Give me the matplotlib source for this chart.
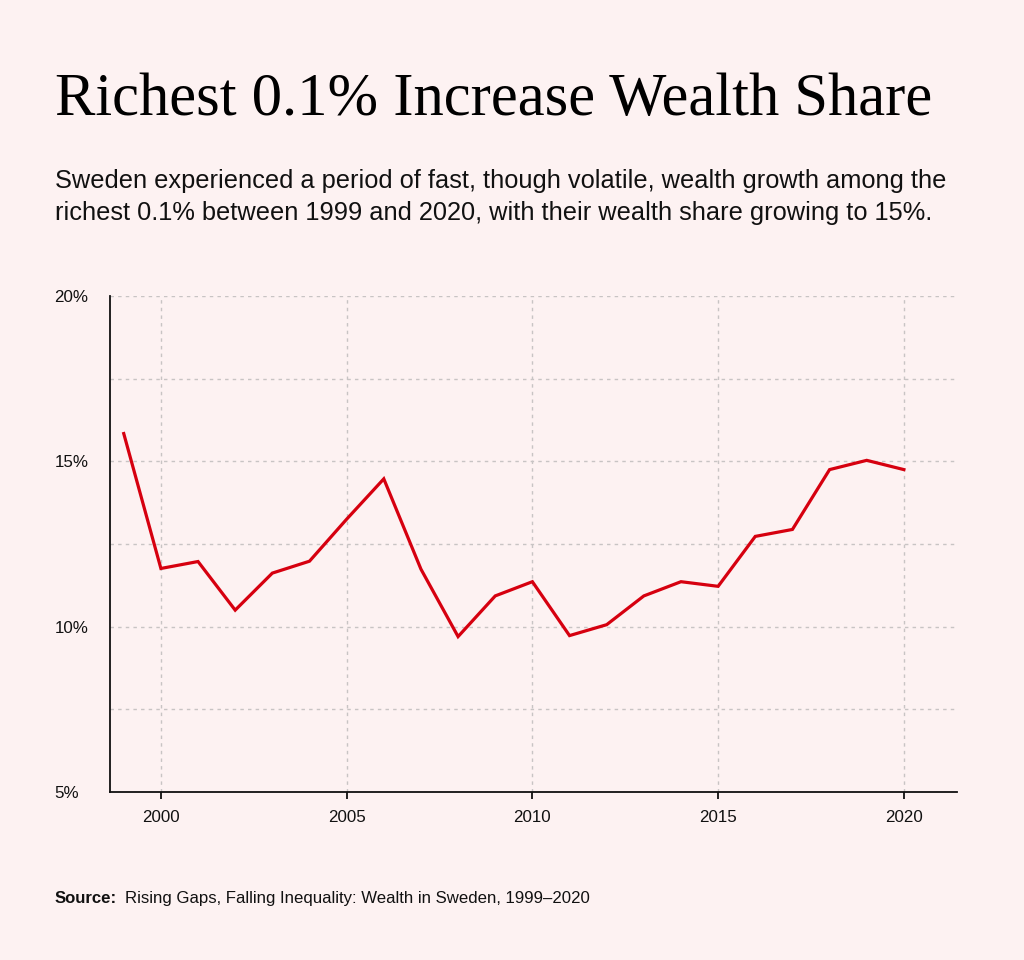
import matplotlib
matplotlib.use('Agg')
import matplotlib.pyplot as plt
from matplotlib.ticker import FixedLocator, FuncFormatter

# values (share of wealth held by the richest 0.1%, in %)
years = [1999, 2000, 2001, 2002, 2003, 2004, 2005, 2006, 2007, 2008, 2009,
         2010, 2011, 2012, 2013, 2014, 2015, 2016, 2017, 2018, 2019, 2020]
share = [15.84, 11.76, 11.97, 10.5, 11.62, 11.98, 13.25, 14.47, 11.74, 9.7, 10.93,
         11.36, 9.73, 10.06, 10.93, 11.36, 11.22, 12.73, 12.94, 14.75, 15.03, 14.75]

x_ticks = [2000, 2005, 2010, 2015, 2020]
y_ticks = [5, 10, 15, 20]
y_minor = [7.5, 12.5, 17.5]

BG = '#fdf2f2'
RED = '#d6000f'
GRID = '#c8c4c4'

title = 'Richest 0.1% Increase Wealth Share'
subtitle = ['Sweden experienced a period of fast, though volatile, wealth growth among the',
            'richest 0.1% between 1999 and 2020, with their wealth share growing to 15%.']
source = 'Rising Gaps, Falling Inequality: Wealth in Sweden, 1999\u20132020'

W, H = 1024, 960
fig = plt.figure(figsize=(W / 100, H / 100), dpi=100, facecolor=BG)
ax = fig.add_axes([110 / W, 1 - 792 / H, (957 - 110) / W, (792 - 296) / H])
ax.set_facecolor(BG)

ax.plot(years, share, color=RED, linewidth=2.3, solid_joinstyle='miter', zorder=3)

ax.set_xlim(1998.63, 2021.43)
ax.set_ylim(5, 20)

ax.xaxis.set_major_locator(FixedLocator(x_ticks))
ax.yaxis.set_major_locator(FixedLocator(y_ticks))
ax.yaxis.set_minor_locator(FixedLocator(y_minor))
ax.yaxis.set_major_formatter(FuncFormatter(lambda v, p: '%d%%' % v))

for s in ['top', 'right']:
    ax.spines[s].set_visible(False)
for s in ['left', 'bottom']:
    ax.spines[s].set_linewidth(1.3)
    ax.spines[s].set_color('#111111')

ax.grid(True, which='both', color=GRID, linestyle=(0, (2.5, 3)), linewidth=1.0, zorder=0)
ax.tick_params(axis='x', which='major', direction='out', length=5, width=1.3,
               color='#111111', labelsize=12.2, pad=8, labelcolor='#111111')
ax.tick_params(axis='y', which='both', length=0, labelsize=12.2, pad=40, labelcolor='#111111')
for lab in ax.get_yticklabels():
    lab.set_horizontalalignment('left')
    lab.set_fontfamily('Liberation Sans')
for lab in ax.get_xticklabels():
    lab.set_fontfamily('Liberation Sans')

fig.text(55 / W, 1 - 115 / H, title, fontsize=43.7, family='Liberation Serif',
         color='#000000', ha='left', va='baseline')
for i, line in enumerate(subtitle):
    fig.text(55 / W, 1 - (188 + 32 * i) / H, line, fontsize=18.3, family='Liberation Sans',
             color='#111111', ha='left', va='baseline')

src_bold = fig.text(55 / W, 1 - 903 / H, 'Source:', fontsize=12.1, family='Liberation Sans',
                    weight='bold', color='#111111', ha='left', va='baseline')
fig.canvas.draw()
bb = src_bold.get_window_extent(renderer=fig.canvas.get_renderer())
fig.text((bb.x1 + 8) / W, 1 - 903 / H, source, fontsize=12.1, family='Liberation Sans',
         color='#111111', ha='left', va='baseline')

fig.savefig('out.png', dpi=100, facecolor=BG)
